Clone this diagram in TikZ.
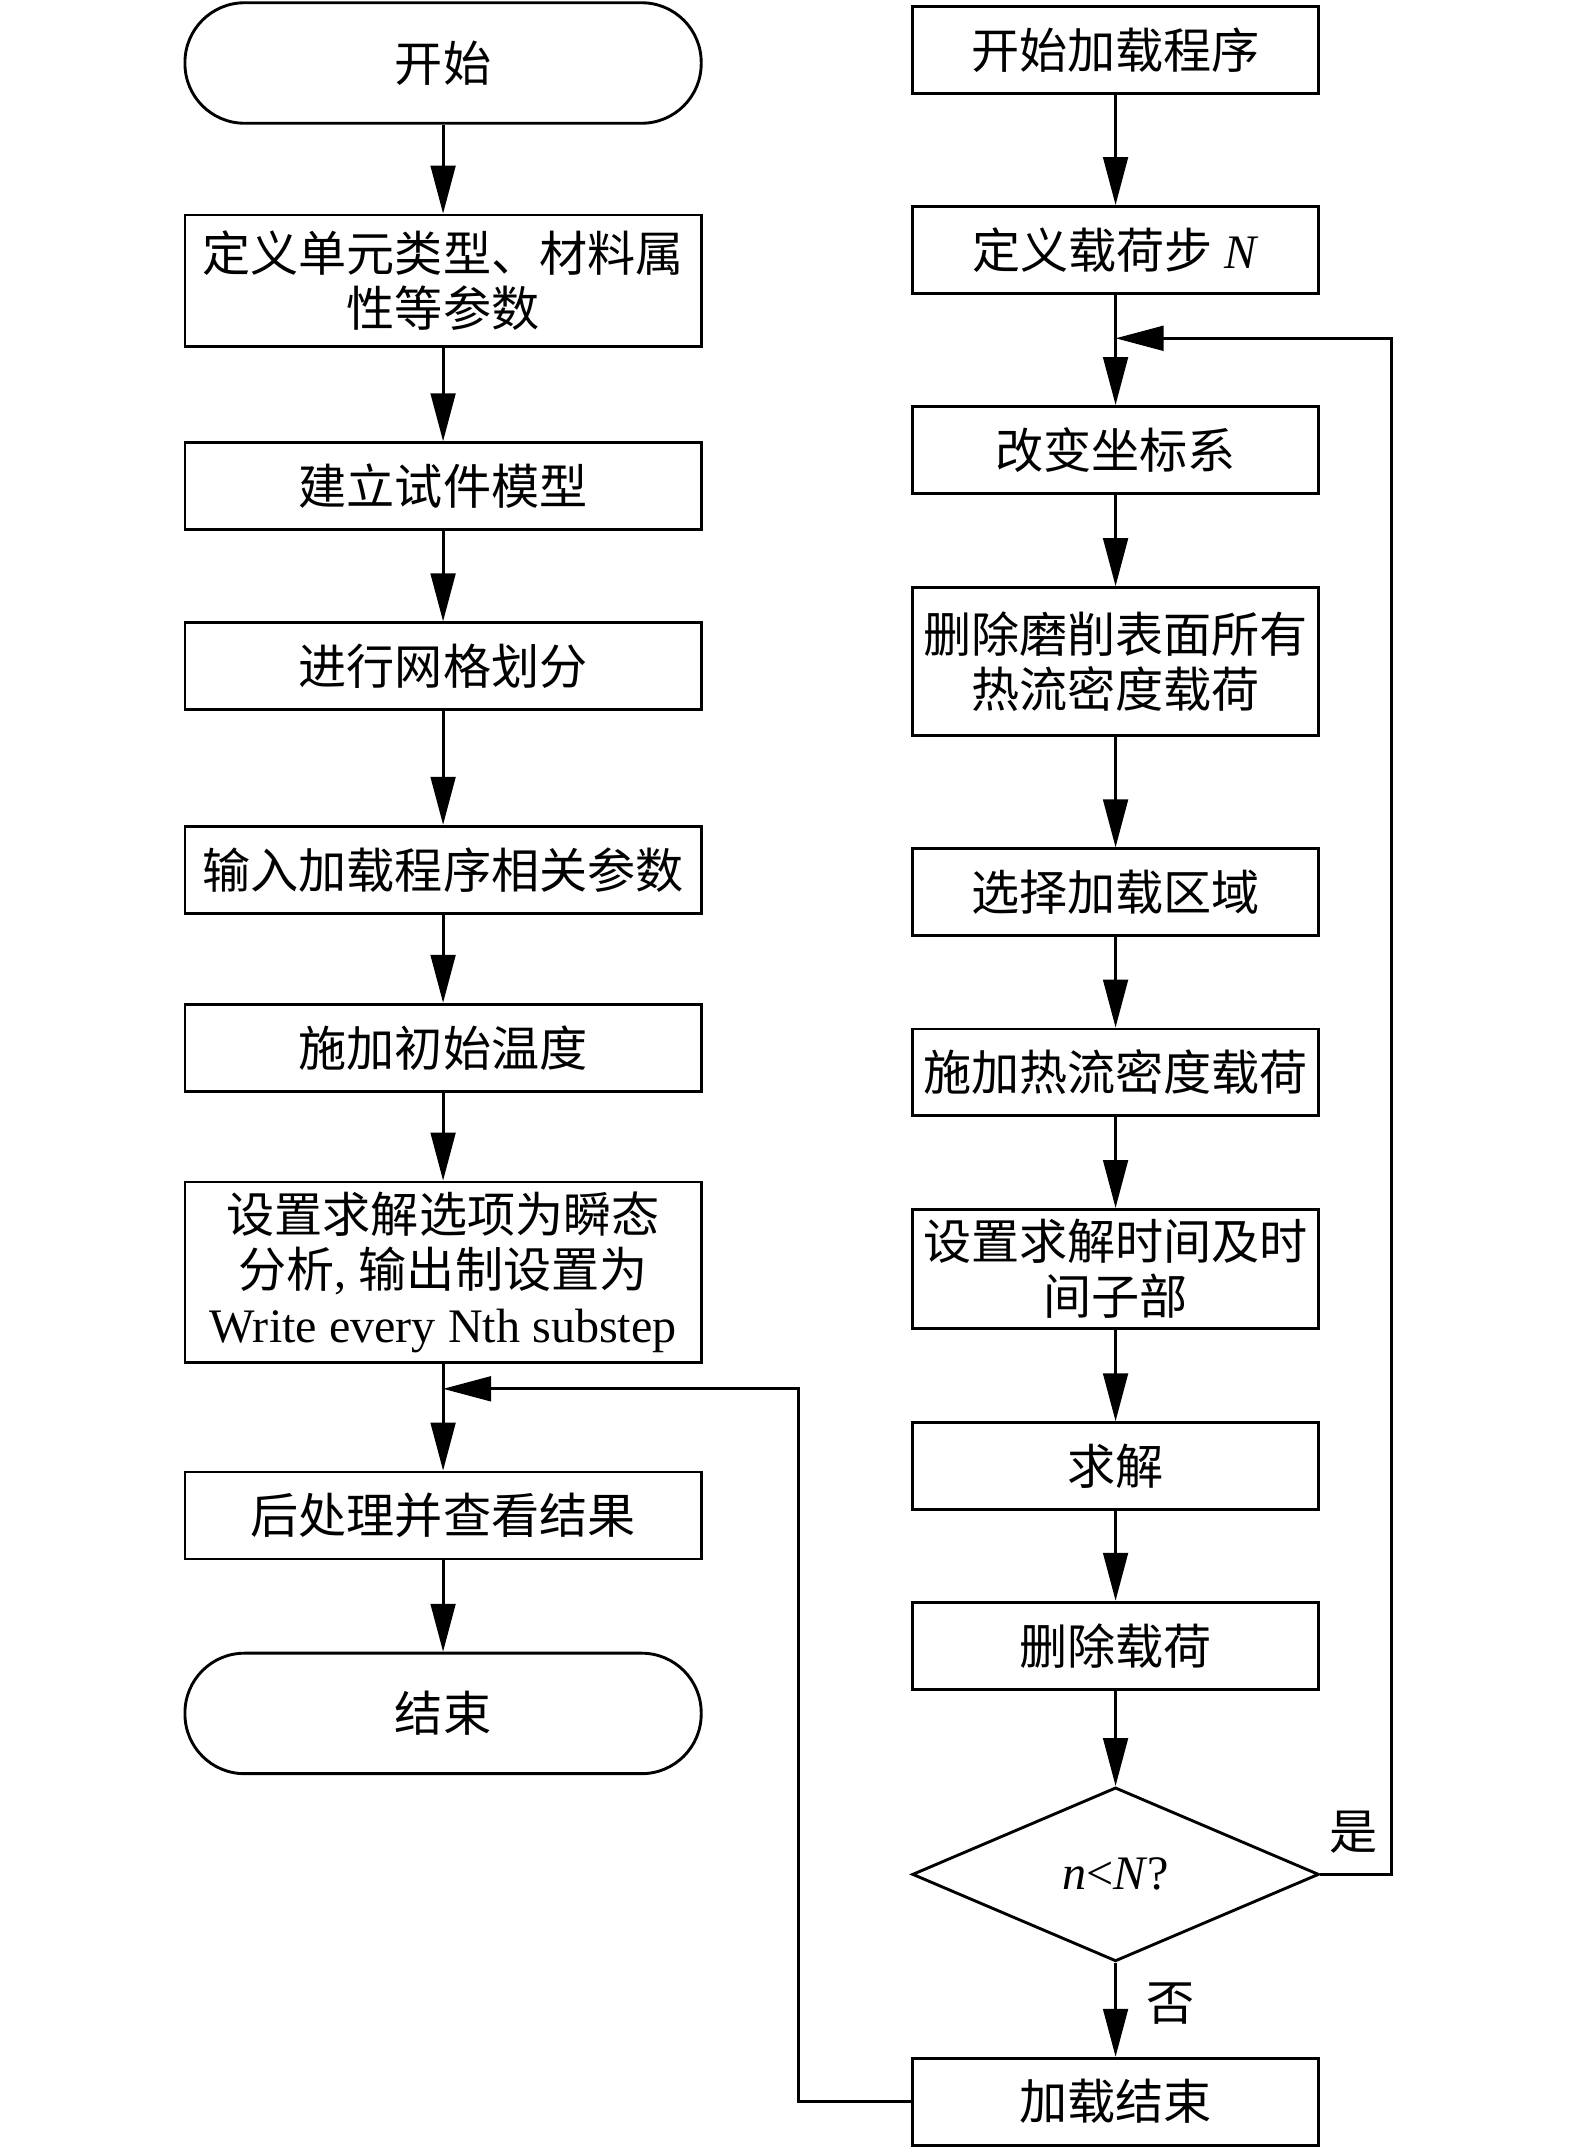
\documentclass[tikz,border=0pt]{standalone}
\usepackage{fontspec}
\setmainfont{Liberation Serif}
\newfontfamily\cjk{Noto Sans CJK SC}
\usetikzlibrary{shapes.geometric,arrows.meta}
\begin{document}
\begin{tikzpicture}[x=0.02cm,y=-0.02cm,
    every node/.style={font=\fontsize{20pt}{23pt}\selectfont},
    boxl/.style={draw,line width=1.2pt,inner sep=0pt,align=center,minimum width=7.54cm,minimum height=1.27cm},
    boxr/.style={draw,line width=1.2pt,inner sep=0pt,align=center,minimum width=5.94cm,minimum height=1.27cm},
    term/.style={boxl,rounded corners=0.87cm,minimum height=1.76cm},
    cond/.style={draw,line width=1.2pt,diamond,inner sep=0pt,minimum width=5.94cm,minimum height=2.54cm},
    arr/.style={line width=1.2pt,-{Triangle[length=0.7cm,width=0.36cm]}}]
\useasboundingbox (0,0) rectangle (1150,1568.3);
    % left column
    \node[term] (start) at (323.5,46) {\cjk 开始};
    \node[boxl,minimum height=1.92cm] (def) at (323.5,205) {\cjk 定义单元类型、材料属\\\cjk 性等参数};
    \node[boxl] (model) at (323.5,355) {\cjk 建立试件模型};
    \node[boxl] (mesh) at (323.5,486.5) {\cjk 进行网格划分};
    \node[boxl] (input) at (323.5,635) {\cjk 输入加载程序相关参数};
    \node[boxl] (temp) at (323.5,765) {\cjk 施加初始温度};
    \node[boxl,minimum height=2.64cm] (opt) at (323.5,929) {\cjk 设置求解选项为瞬态\\{\cjk 分析}, {\cjk 输出制设置为}\\Write every Nth substep};
    \node[boxl] (post) at (323.5,1106.5) {\cjk 后处理并查看结果};
    \node[term] (stop) at (323.5,1251) {\cjk 结束};
    % right column
    \node[boxr] (load) at (814.5,36.5) {\cjk 开始加载程序};
    \node[boxr] (step) at (814.5,182.5) {{\cjk 定义载荷步} \textit{N}};
    \node[boxr] (csys) at (814.5,328.5) {\cjk 改变坐标系};
    \node[boxr,minimum height=2.16cm] (del) at (814.5,483) {\cjk 删除磨削表面所有\\\cjk 热流密度载荷};
    \node[boxr] (area) at (814.5,651.5) {\cjk 选择加载区域};
    \node[boxr] (flux) at (814.5,783) {\cjk 施加热流密度载荷};
    \node[boxr,minimum height=1.74cm] (time) at (814.5,926.5) {\cjk 设置求解时间及时\\\cjk 间子部};
    \node[boxr] (solve) at (814.5,1070.5) {\cjk 求解};
    \node[boxr] (dload) at (814.5,1201.5) {\cjk 删除载荷};
    \node[cond] (test) at (814.5,1368.5) {\textit{n}<\textit{N}?};
    \node[boxr] (done) at (814.5,1534.5) {\cjk 加载结束};
    \node (yes) at (988,1338) {\cjk 是};
    \node (no) at (855,1463) {\cjk 否};
    \coordinate (jr) at (814.5,247);
    \coordinate (jl) at (323.5,1014);
    % arrows
    \draw[arr] (start) -- (def);
    \draw[arr] (def) -- (model);
    \draw[arr] (model) -- (mesh);
    \draw[arr] (mesh) -- (input);
    \draw[arr] (input) -- (temp);
    \draw[arr] (temp) -- (opt);
    \draw[arr] (opt) -- (post);
    \draw[arr] (post) -- (stop);
    \draw[arr] (load) -- (step);
    \draw[arr] (step) -- (csys);
    \draw[arr] (csys) -- (del);
    \draw[arr] (del) -- (area);
    \draw[arr] (area) -- (flux);
    \draw[arr] (flux) -- (time);
    \draw[arr] (time) -- (solve);
    \draw[arr] (solve) -- (dload);
    \draw[arr] (dload) -- (test);
    \draw[arr] (test) -- (done);
    \draw[arr] (test.east) -- ++(52,0) |- (jr);
    \draw[arr] (done.west) -- ++(-82,0) |- (jl);
\end{tikzpicture}
\end{document}
